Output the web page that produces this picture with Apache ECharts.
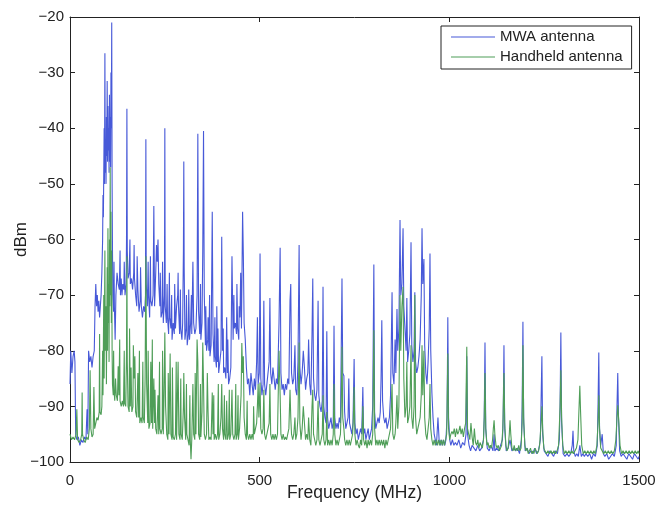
<!DOCTYPE html>
<html>
<head>
<meta charset="utf-8">
<script src="https://cdn.jsdelivr.net/npm/echarts@6/dist/echarts.min.js"></script>
<style>
html,body{margin:0;padding:0;background:#fff;}
#chart{width:655px;height:508px;}
</style>
</head>
<body>
<div id="chart"></div>
<script>
// Series names
const seriesNames = ["MWA antenna", "Handheld antenna"];
// Axis ticks
const xTicks = [0, 500, 1000, 1500];
const yTicks = [-100, -90, -80, -70, -60, -50, -40, -30, -20];

// MWA antenna spectrum: [frequency MHz, dBm]
const mwaSpectrum = [
[0,-86],[2,-80],[5,-84],[8,-81],[11,-80],[13,-82],[15,-95],[18,-96],[22,-95.5],[26,-97],[30,-96],[34,-96.5],[38,-95.5],[42,-96],[45,-90.5],[47,-95],[49,-80],[52,-82],[55,-81],[58,-83],[61,-81],[64,-80],[66,-72],[68,-68],[70,-72],[72,-70],[74,-73],[76,-71],[78,-74],[80,-72],[82,-70],[84,-66],[86,-60],[87,-52],[88,-56],[89,-48],[90,-40],[91,-50],[92,-26.5],[93,-48],[94,-42],[95,-50],[96,-38],[97,-45],[98,-31.5],[99,-46],[100,-36],[101,-44],[102,-40],[103,-48],[104,-34],[105,-46],[106,-38],[107,-47],[108,-30],[109,-40],[110,-21],[111,-50],[112,-62],[113,-70],[115,-73],[117,-72],[119,-78],[121,-70],[124,-66],[127,-68],[130,-69],[133,-70],[135,-67],[137,-70],[139,-68],[142,-69],[145,-70],[148,-68],[149,-60],[150,-36.5],[151,-62],[153,-67],[156,-66],[159,-68],[162,-67],[165,-69],[168,-66],[169,-61],[170,-67],[173,-70],[176,-72],[179,-69],[182,-73],[185,-71],[188,-72],[191,-74],[194,-72],[197,-73],[199,-70],[200,-42],[201,-68],[204,-72],[207,-70],[210,-74],[213,-71],[216,-72],[219,-70],[221,-54],[223,-72],[226,-66],[228,-61],[230,-64],[232,-60],[234,-68],[237,-72],[240,-74],[243,-73],[246,-75],[249,-70],[250,-40],[251,-72],[254,-75],[257,-74],[260,-77],[263,-74],[266,-76],[269,-78],[272,-75],[275,-77],[278,-76],[281,-72],[284,-70],[285,-66],[286,-72],[289,-77],[292,-76],[295,-78],[297,-75],[299,-62],[300,-46],[301,-65],[303,-78],[306,-76],[309,-79],[312,-77],[315,-78],[318,-75],[321,-77],[324,-64],[326,-75],[329,-77],[332,-76],[335,-70],[337,-41],[339,-73],[342,-77],[345,-78],[348,-75],[350,-62],[352,-40.5],[354,-70],[357,-79],[360,-80],[363,-78],[364,-74],[366,-80],[369,-81],[372,-79],[375,-55],[377,-77],[380,-82],[383,-81],[386,-83],[387,-72],[389,-82],[392,-84],[395,-82],[398,-80],[400,-59.5],[402,-80],[405,-84],[408,-83],[411,-85],[413,-74],[415,-84],[418,-86],[421,-85],[424,-83],[427,-63],[430,-78],[433,-76],[436,-75],[439,-77],[442,-76],[445,-78],[448,-74],[450,-66],[452,-76],[455,-55],[457,-63],[459,-75],[462,-78],[465,-83],[468,-86],[471,-85],[474,-88],[477,-84],[480,-86],[483,-88],[486,-85],[489,-87],[492,-82],[494,-74],[496,-86],[499,-84],[501,-62.5],[503,-85],[506,-88],[509,-86],[511,-71],[513,-86],[516,-88],[519,-86],[522,-84],[525,-82],[527,-70.5],[529,-84],[532,-86],[535,-83],[538,-85],[541,-87],[544,-85],[547,-86],[551,-75],[554,-61.5],[556,-84],[559,-87],[562,-86],[565,-88],[568,-86],[571,-87],[574,-85],[577,-86],[580,-71],[582,-68],[584,-84],[587,-86],[590,-85],[593,-79],[595,-87],[598,-88],[601,-82],[604,-61],[606,-83],[609,-86],[612,-84],[615,-80],[618,-83],[621,-87],[624,-85],[627,-84],[629,-78],[632,-86],[635,-88],[638,-77],[640,-67],[642,-85],[645,-88],[648,-89],[651,-87],[654,-71],[656,-88],[659,-90],[662,-91],[665,-89],[667,-68.5],[669,-90],[672,-92],[675,-93],[677,-76.5],[679,-92],[682,-94],[685,-93],[688,-92],[691,-94],[694,-93],[696,-75.5],[698,-92],[701,-94],[704,-93],[707,-94],[710,-92],[713,-93],[715,-80],[717,-67],[719,-84],[722,-84.5],[724,-91],[727,-94],[730,-93],[733,-92],[735,-85],[737,-93],[740,-94],[743,-95],[746,-93],[749,-81.5],[751,-93],[754,-95],[757,-94],[760,-96],[763,-95],[766,-94],[769,-95],[772,-86.5],[774,-95],[777,-94],[780,-96],[783,-95],[786,-94],[789,-96],[792,-95],[795,-94],[798,-90],[801,-64.5],[803,-91],[806,-94],[809,-93],[812,-92],[815,-93],[818,-91],[820,-85],[822,-74.5],[824,-89],[827,-92],[830,-93],[833,-92],[836,-94],[839,-93],[842,-92],[845,-88],[849,-69.5],[851,-84],[854,-86],[857,-78],[859,-84],[862,-72.5],[864,-80],[867,-76],[870,-56.5],[872,-70],[875,-68],[878,-58],[880,-72],[883,-76],[886,-80],[888,-70.5],[890,-82],[893,-80],[896,-77],[899,-60.5],[901,-79],[904,-82],[907,-80],[909,-69.5],[911,-82],[914,-84],[917,-83],[920,-81],[923,-78],[926,-70],[928,-58],[930,-68],[933,-63.5],[935,-79],[938,-84],[941,-86],[944,-82],[947,-76],[949,-62.5],[951,-80],[954,-87.5],[957,-92],[960,-95],[963,-96],[966,-97],[970,-92],[973,-96],[976,-97],[979,-96],[982,-97],[985,-96],[988,-97],[991,-96],[994,-92],[996,-74],[998,-92],[1001,-96],[1004,-97],[1008,-96],[1012,-97],[1016,-96.5],[1020,-97],[1025,-96],[1030,-97.5],[1035,-96.5],[1040,-97],[1044,-95],[1046,-81],[1048,-95],[1052,-97],[1056,-98],[1060,-97],[1065,-97.5],[1070,-98],[1075,-97],[1080,-98],[1085,-97.5],[1090,-96],[1092,-92],[1094,-78.5],[1096,-94],[1100,-97.5],[1105,-98],[1110,-97],[1115,-98],[1118,-95],[1120,-98],[1125,-97.5],[1130,-98],[1135,-97],[1140,-96],[1142,-92],[1144,-79],[1146,-94],[1150,-98],[1155,-97.5],[1160,-96],[1165,-98],[1170,-97.5],[1175,-98],[1180,-97.5],[1185,-98.5],[1190,-96],[1192,-90],[1194,-74.8],[1196,-93],[1200,-98],[1205,-97.5],[1210,-98.5],[1215,-98],[1220,-98.5],[1225,-97.5],[1230,-98.5],[1235,-98],[1240,-96],[1244,-81],[1246,-95],[1250,-98],[1255,-98.5],[1260,-99],[1265,-98],[1270,-98.5],[1275,-99],[1280,-98],[1285,-98.5],[1290,-96],[1292,-90],[1294,-76.7],[1296,-93],[1300,-98.5],[1305,-99],[1310,-98.5],[1315,-99],[1320,-98.5],[1324,-97],[1326,-94.4],[1328,-98],[1332,-99],[1336,-98.5],[1340,-99],[1344,-97],[1348,-99],[1352,-98.5],[1356,-99],[1360,-98.5],[1365,-99],[1370,-98.5],[1375,-99.5],[1380,-98.5],[1385,-99],[1390,-97],[1392,-90],[1394,-80.3],[1396,-94],[1399,-97],[1403,-95],[1406,-98.5],[1410,-99],[1415,-98.5],[1420,-99.5],[1425,-99],[1430,-98.5],[1435,-99],[1440,-97],[1442,-90],[1444,-84],[1446,-92],[1449,-98],[1453,-99],[1458,-98.5],[1463,-99],[1468,-99.5],[1473,-98.5],[1478,-99],[1483,-99.5],[1488,-98.5],[1493,-99],[1498,-99.5],[1500,-99]
];
// Additional narrow MWA peaks in the dense 100-450 MHz band: [frequency MHz, dBm]
const mwaExtraPeaks = [
[116,-64],[132,-62],[143,-64],[158,-60],[177,-63],[186,-65],[206,-64],[212,-63],[238,-66],[244,-64],[256,-68],[262,-66],[268,-70],[276,-68],[291,-69],[307,-70],[313,-69],[320,-70],[344,-68],[358,-72],[368,-70],[382,-74],[390,-76],[404,-76],[416,-78],[432,-70],[440,-68],[446,-72]
];

// Handheld antenna spectrum: [frequency MHz, dBm]
const handheldSpectrum = [
[0,-95],[4,-96],[8,-95.5],[12,-96],[16,-95],[18,-90.5],[20,-96],[24,-96.5],[28,-96],[31,-95],[32,-87.5],[33,-95],[36,-96],[40,-96.5],[44,-95.5],[48,-96],[51,-94],[53,-83.5],[55,-94],[58,-95.5],[61,-95],[63,-86.5],[65,-94],[68,-93],[71,-92],[74,-92.5],[77,-91],[78,-77],[79,-91],[82,-91.5],[84,-90],[86,-80],[87,-88],[89,-70],[90,-85],[92,-62],[93,-80],[95,-72],[96,-86],[98,-65],[99,-80],[100,-58],[101,-75],[102,-68],[103,-82],[104,-60],[105,-72],[106,-47],[107,-70],[108,-55],[109,-75],[110,-62],[111,-80],[112,-86],[114,-88],[116,-87],[118,-89],[120,-85],[122,-88],[125,-89],[127,-82.8],[129,-88],[132,-89],[135,-90],[138,-89],[141,-90],[144,-89.5],[147,-90],[149,-80],[150,-63],[151,-82],[153,-90],[156,-91],[159,-90],[161,-83],[163,-91],[166,-90],[169,-85],[171,-81],[173,-91],[176,-92],[179,-84],[181,-92],[184,-93],[187,-92],[190,-93],[193,-92],[196,-93],[198,-85],[200,-63],[202,-86],[205,-93],[208,-94],[211,-93],[213,-82],[215,-93],[218,-94],[221,-85],[223,-93],[224,-87],[226,-94],[229,-95],[232,-88],[234,-95],[237,-94],[240,-95],[243,-94],[246,-95],[248,-88],[250,-76.7],[252,-90],[255,-95],[258,-96],[261,-95],[264,-80.5],[266,-95],[269,-96],[272,-95.5],[275,-96],[278,-95],[281,-96],[285,-82],[287,-95],[290,-96],[293,-95],[296,-96],[299,-90],[300,-84],[302,-92],[305,-96],[308,-95],[311,-96],[314,-97],[317,-96],[319,-99.5],[321,-96],[324,-86],[326,-95],[329,-96],[332,-95],[335,-78],[337,-82],[339,-95],[342,-96],[345,-95.5],[348,-91],[350,-78.5],[352,-86],[354,-95],[357,-96],[360,-95],[364,-91],[366,-96],[369,-95.5],[372,-96],[375,-87.5],[377,-95],[380,-96],[383,-95],[386,-96],[389,-95],[392,-96],[395,-95],[398,-92],[400,-86],[402,-94],[405,-96],[408,-95],[411,-96],[413,-89],[415,-96],[418,-95],[421,-96],[424,-95],[427,-87],[429,-95],[432,-96],[435,-95],[438,-96],[441,-95],[444,-96],[447,-94],[449,-91],[451,-88],[453,-78.6],[455,-84],[457,-81],[459,-92],[462,-95],[465,-96],[468,-95],[471,-96],[474,-95],[477,-96],[480,-95],[483,-96],[486,-95],[489,-94],[492,-93],[494,-90],[496,-86],[498,-92],[501,-85.7],[503,-94],[506,-95],[509,-94],[511,-87],[513,-95],[516,-96],[519,-95],[522,-94],[525,-93],[527,-86],[529,-95],[532,-96],[535,-95],[538,-96],[541,-95],[544,-96],[547,-95],[551,-80],[554,-88],[556,-95],[559,-96],[562,-95],[565,-96],[568,-95.5],[571,-96],[574,-95],[577,-94],[580,-87],[582,-92],[584,-95],[587,-96],[590,-95],[593,-92],[595,-96],[598,-95],[601,-92],[604,-78.5],[606,-93],[609,-96],[612,-94],[615,-90],[618,-93],[621,-96],[624,-95],[627,-96],[629,-92],[632,-96],[635,-97],[638,-90],[640,-87],[642,-95],[645,-96],[648,-97],[651,-96],[654,-89],[656,-96],[659,-97],[662,-96],[665,-95],[667,-88],[669,-96],[672,-97],[675,-96],[677,-91],[679,-97],[682,-96],[685,-97],[688,-96],[691,-97],[694,-95],[696,-86],[698,-95],[701,-97],[704,-96],[707,-97],[710,-96],[713,-95],[715,-90],[717,-79.3],[719,-92],[722,-94],[724,-96],[727,-97],[730,-96],[733,-97],[736,-96],[739,-97],[742,-96],[745,-95],[747,-92],[749,-86.5],[751,-95],[754,-97],[757,-96],[760,-97],[763,-97.5],[766,-96],[769,-97],[772,-90],[774,-96],[777,-97],[780,-96],[783,-97.5],[786,-96],[789,-97],[792,-96],[795,-97],[798,-95],[801,-76.3],[803,-94],[806,-97],[809,-96],[812,-97],[815,-96],[818,-97],[821,-96],[824,-97],[827,-96],[830,-97.5],[833,-96],[836,-97],[839,-96],[842,-95],[845,-94],[849,-86],[851,-95],[854,-96],[857,-95],[859,-93],[862,-88],[864,-94],[867,-90],[870,-70],[872,-80],[875,-72],[878,-68.5],[880,-85],[883,-92],[886,-90],[888,-82],[890,-93],[893,-92],[896,-90],[899,-79],[901,-92],[904,-94],[907,-90],[909,-70],[911,-92],[914,-95],[917,-94],[920,-93],[923,-92],[926,-88],[928,-79],[930,-88],[933,-80],[935,-92],[938,-95],[941,-96],[944,-94],[947,-92],[949,-86],[951,-94],[954,-96],[957,-97],[960,-96],[963,-97],[966,-96],[969,-97],[972,-96],[975,-97],[978,-96],[981,-97],[984,-96],[987,-97],[990,-96],[993,-95],[996,-80.5],[998,-94],[1001,-96],[1004,-95],[1007,-94.5],[1010,-95],[1013,-94],[1016,-95.5],[1019,-94],[1022,-95],[1025,-94.5],[1028,-93.5],[1031,-95],[1034,-94],[1037,-95.5],[1040,-94],[1043,-93],[1046,-79.3],[1048,-94],[1051,-95],[1054,-96],[1057,-93],[1060,-95.5],[1063,-97],[1066,-94],[1069,-96.5],[1072,-97],[1075,-96],[1078,-97.5],[1081,-96.5],[1084,-97],[1087,-97.5],[1090,-96],[1092,-92],[1094,-84],[1096,-94],[1099,-97],[1102,-96.5],[1105,-97.5],[1108,-97],[1111,-97.5],[1114,-96],[1116,-94],[1118,-92.5],[1120,-95],[1123,-97],[1126,-97.5],[1129,-97],[1132,-98],[1135,-97.5],[1138,-97],[1141,-94],[1144,-84],[1146,-93],[1149,-97],[1152,-98],[1155,-97.5],[1158,-95],[1160,-92.5],[1162,-95],[1165,-97.5],[1168,-98],[1171,-97],[1174,-98],[1177,-97.5],[1180,-98],[1183,-97],[1186,-98],[1189,-97.5],[1192,-93],[1194,-79],[1196,-92],[1199,-97],[1202,-98],[1205,-97.5],[1208,-98.5],[1211,-98],[1214,-97.5],[1217,-98.5],[1220,-98],[1223,-98.5],[1226,-97.5],[1229,-98],[1232,-98.5],[1235,-98],[1238,-97],[1242,-93],[1244,-90],[1246,-94],[1249,-97.5],[1252,-98],[1256,-98.5],[1260,-98],[1264,-98.5],[1268,-98],[1272,-98.5],[1276,-98],[1280,-98.5],[1284,-98],[1288,-97],[1292,-90],[1294,-83.5],[1296,-92],[1299,-97],[1303,-98.5],[1307,-98],[1311,-98.5],[1315,-98],[1319,-98.5],[1323,-98],[1327,-98.5],[1331,-98],[1335,-97.5],[1339,-96],[1341,-92],[1344,-86.3],[1346,-91],[1349,-97],[1353,-98.5],[1357,-98],[1361,-98.5],[1365,-98],[1369,-98.5],[1373,-98],[1377,-98.5],[1381,-98],[1385,-98.5],[1389,-97],[1392,-93],[1394,-88],[1396,-94],[1399,-97.5],[1403,-98],[1407,-98.5],[1411,-98],[1415,-98.5],[1419,-98],[1423,-98.5],[1427,-98],[1431,-98.5],[1435,-98],[1439,-96],[1442,-92],[1444,-89.8],[1447,-93],[1450,-97],[1454,-98.5],[1458,-98],[1462,-98.5],[1466,-98],[1470,-98.5],[1474,-98],[1478,-98.5],[1482,-98],[1486,-98.5],[1490,-98],[1494,-98.5],[1498,-98],[1500,-98.5]
];
// Additional narrow handheld peaks in the dense 100-500 MHz band: [frequency MHz, dBm]
const handheldExtraPeaks = [
[115,-80],[131,-78],[143,-80],[157,-76],[167,-79],[183,-80],[192,-82],[206,-80],[217,-78],[236,-82],[244,-80],[259,-84],[270,-83],[280,-82],[292,-85],[307,-86],[316,-88],[330,-84],[344,-86],[362,-84],[379,-88],[391,-86],[407,-88],[420,-87],[437,-86],[443,-88],[467,-89],[484,-90]
];

function mergeSorted(a, b) {
  return a.concat(b).sort(function (p, q) { return p[0] - q[0]; });
}

const FONT = '"Liberation Sans", Arial, Helvetica, sans-serif';
const chart = echarts.init(document.getElementById('chart'), null, {renderer: 'canvas'});

const axisLineStyle = {color: '#222', width: 1};
function fmtTick(v) { return (v < 0 ? '\u2212' : '') + String(Math.abs(v)); }
const baseX = {
  type: 'value', min: xTicks[0], max: xTicks[xTicks.length - 1], interval: xTicks[1] - xTicks[0],
  splitLine: {show: false},
  axisLine: {show: true, onZero: false, lineStyle: axisLineStyle},
  axisTick: {show: true, inside: true, length: 5, lineStyle: axisLineStyle}
};
const baseY = {
  type: 'value', min: yTicks[0], max: yTicks[yTicks.length - 1], interval: yTicks[1] - yTicks[0],
  splitLine: {show: false},
  axisLine: {show: true, onZero: false, lineStyle: axisLineStyle},
  axisTick: {show: true, inside: true, length: 5, lineStyle: axisLineStyle}
};

const blue = '#4759d8';
const green = '#4f9e58';

chart.setOption({
  animation: false,
  backgroundColor: '#fff',
  textStyle: {fontFamily: FONT},
  grid: {left: 70, right: 16, top: 17, bottom: 46, containLabel: false, outerBoundsMode: 'none'},
  legend: {
    data: seriesNames,
    orient: 'vertical',
    left: 441, top: 26,
    icon: 'rect',
    itemWidth: 44, itemHeight: 1.2, itemGap: 0,
    padding: [1, 9, 2, 10],
    backgroundColor: '#fff',
    borderColor: '#222', borderWidth: 1, borderRadius: 0,
    textStyle: {fontFamily: FONT, fontSize: 15, color: '#222', lineHeight: 20, height: 20}
  },
  xAxis: [
    Object.assign({}, baseX, {
      position: 'bottom',
      name: 'Frequency (MHz)', nameLocation: 'middle', nameGap: 22, nameMoveOverlap: false,
      nameTextStyle: {fontFamily: FONT, fontSize: 17.5, color: '#222'},
      axisLabel: {show: true, fontFamily: FONT, fontSize: 15, color: '#222', margin: 11, formatter: fmtTick}
    }),
    Object.assign({}, baseX, {position: 'top', axisLabel: {show: false}})
  ],
  yAxis: [
    Object.assign({}, baseY, {
      position: 'left',
      name: 'dBm', nameLocation: 'middle', nameGap: 40, nameRotate: 90, nameMoveOverlap: false,
      nameTextStyle: {fontFamily: FONT, fontSize: 17, color: '#222'},
      axisLabel: {show: true, fontFamily: FONT, fontSize: 15, color: '#222', margin: 6, formatter: fmtTick}
    }),
    Object.assign({}, baseY, {position: 'right', axisLabel: {show: false}})
  ],
  series: [
    {
      name: seriesNames[0], type: 'line', data: mergeSorted(mwaSpectrum, mwaExtraPeaks),
      xAxisIndex: 0, yAxisIndex: 0,
      symbol: 'none', showSymbol: false, smooth: false,
      lineStyle: {color: blue, width: 1.1},
      itemStyle: {color: blue},
      z: 2
    },
    {
      name: seriesNames[1], type: 'line', data: mergeSorted(handheldSpectrum, handheldExtraPeaks),
      xAxisIndex: 0, yAxisIndex: 0,
      symbol: 'none', showSymbol: false, smooth: false,
      lineStyle: {color: green, width: 1.1},
      itemStyle: {color: green},
      z: 3
    }
  ]
});
</script>
</body>
</html>
